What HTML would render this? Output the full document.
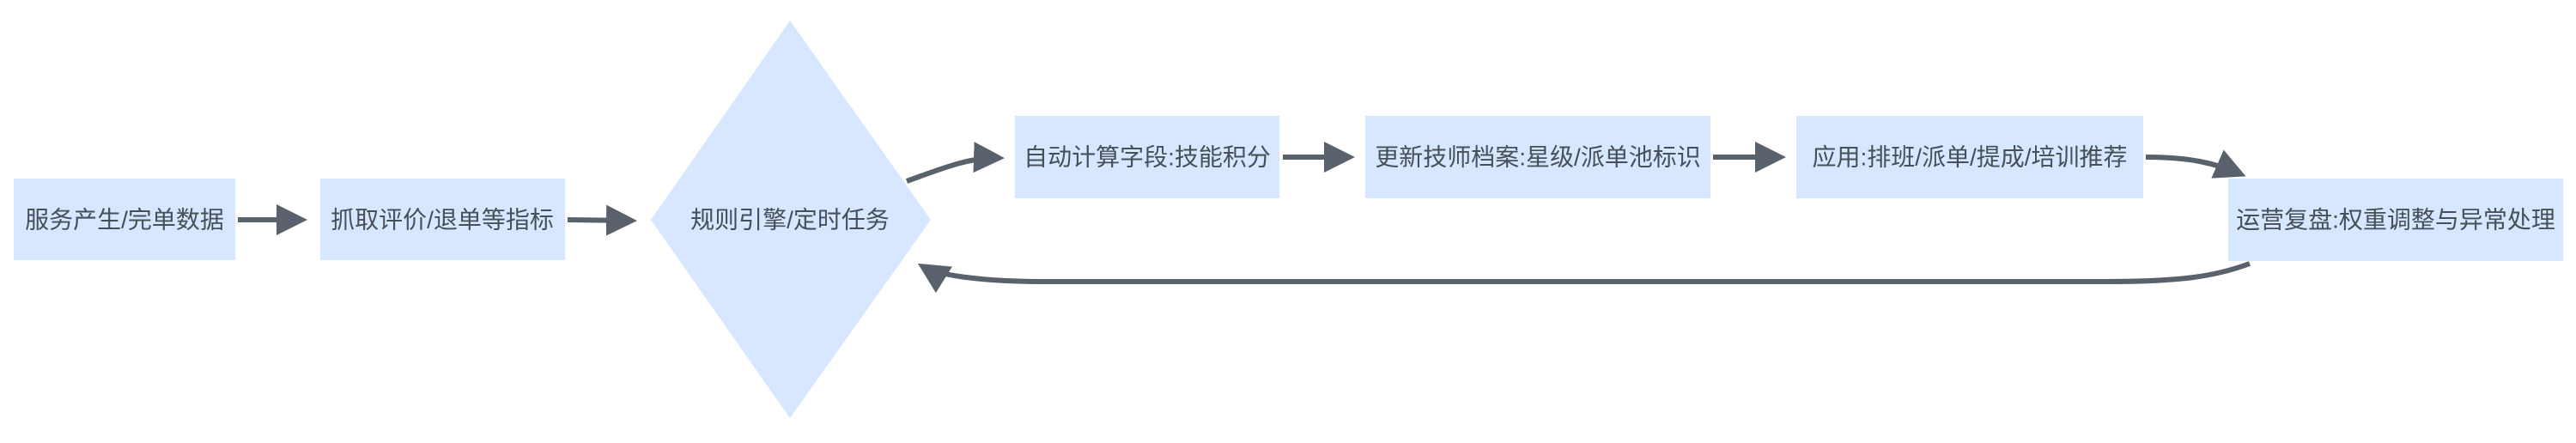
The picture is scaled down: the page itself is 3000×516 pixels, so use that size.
<!DOCTYPE html>
<html><head><meta charset="utf-8"><style>
html,body{margin:0;padding:0;background:#fff;}
svg text{font-family:"Liberation Sans","Noto Sans CJK SC",sans-serif;font-size:28px;fill:#474f58;}
</style></head><body>
<svg width="3000" height="511" viewBox="0 0 3000 511" xmlns="http://www.w3.org/2000/svg">
<defs><marker id="a" markerWidth="6" markerHeight="6" refX="5" refY="3" orient="auto" markerUnits="strokeWidth"><path d="M0,0 L6,3 L0,6 z" fill="#59626c"/></marker></defs>
<g fill="#d6e7ff">
<rect x="16" y="208" width="258" height="95"/>
<rect x="373" y="208" width="285" height="95"/>
<polygon points="920,24 1084,256 920,487 758,256"/>
<rect x="1182" y="135" width="308" height="96"/>
<rect x="1590" y="135" width="402" height="96"/>
<rect x="2092" y="135" width="404" height="96"/>
<rect x="2595" y="208" width="390" height="96"/>
</g>
<g stroke="#59626c" stroke-width="6" fill="none" marker-end="url(#a)">
<path d="M277,256 L352,256"/>
<path d="M661,256 L736,257"/>
<path d="M1056,211 C1100,195 1130,183 1164,184"/>
<path d="M1494,183 L1572,183"/>
<path d="M1995,183 L2074,183"/>
<path d="M2499,183 C2550,183 2580,190 2610,203"/>
<path d="M2620,307 C2580,322 2540,328 2450,328 L1220,328 C1140,328 1090,320 1074,310"/>
</g>
<g text-anchor="middle" dominant-baseline="central">
<text x="145" y="256">服务产生/完单数据</text>
<text x="515" y="256">抓取评价/退单等指标</text>
<text x="920" y="256">规则引擎/定时任务</text>
<text x="1336" y="183">自动计算字段:技能积分</text>
<text x="1791" y="183">更新技师档案:星级/派单池标识</text>
<text x="2294" y="183">应用:排班/派单/提成/培训推荐</text>
<text x="2790" y="256">运营复盘:权重调整与异常处理</text>
</g>
</svg>
</body></html>
